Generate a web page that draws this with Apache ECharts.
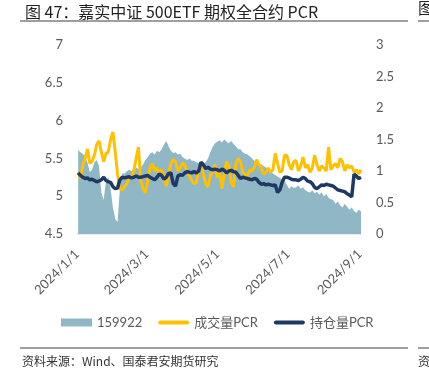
<!DOCTYPE html>
<html>
<head>
<meta charset="utf-8">
<script src="https://cdn.jsdelivr.net/npm/echarts@6/dist/echarts.min.js"></script>
<style>
  html, body { margin: 0; padding: 0; background: #fff; }
  #chart { width: 429px; height: 377px; }
</style>
</head>
<body>
<div id="chart"></div>
<script>
// 数据：从2024/1/2起每两天取一个点
var startDate = '2024-01-02';
var stepDays = 2;
var tickDates = ['2024-01-01', '2024-03-01', '2024-05-01', '2024-07-01', '2024-09-01'];

// 159922 收盘价（左轴）
var etfPrice = [
  5.61, 5.58, 5.56, 5.52, 5.45, 5.32, 5.35, 5.45, 5.48, 5.40,
  5.05, 4.95, 5.20, 5.25, 5.10, 4.85, 4.70, 4.66, 5.10, 5.30,
  5.30, 5.33, 5.35, 5.33, 5.36, 5.38, 5.36, 5.38, 5.42, 5.48,
  5.52, 5.56, 5.58, 5.55, 5.60, 5.58, 5.62, 5.68, 5.73, 5.66,
  5.60, 5.57, 5.58, 5.55, 5.56, 5.52, 5.50, 5.48, 5.50, 5.47,
  5.47, 5.45, 5.44, 5.46, 5.43, 5.45, 5.50, 5.58, 5.65, 5.70,
  5.72, 5.74, 5.71, 5.75, 5.72, 5.70, 5.73, 5.69, 5.66, 5.62,
  5.62, 5.58, 5.56, 5.55, 5.53, 5.50, 5.47, 5.45, 5.44, 5.42,
  5.40, 5.38, 5.35, 5.33, 5.30, 5.28, 5.26, 5.24, 5.22, 5.20,
  5.15, 5.10, 5.13, 5.11, 5.12, 5.14, 5.10, 5.12, 5.08, 5.06,
  5.05, 5.08, 5.04, 5.06, 5.02, 5.05, 5.00, 5.03, 4.98, 4.96,
  4.95, 4.90, 4.93, 4.88, 4.85, 4.90, 4.86, 4.82, 4.85, 4.80, 4.78, 4.82, 4.80
];

// 成交量PCR（右轴）
var volumePcr = [
  0.98, 0.88, 1.10, 1.20, 1.35, 1.12, 1.15, 1.25, 1.42, 1.48,
  1.30, 1.15, 1.28, 1.30, 1.50, 1.62, 1.30, 0.95, 0.72, 0.70,
  0.75, 0.80, 0.92, 0.88, 1.00, 1.20, 1.38, 0.85, 0.72, 0.65,
  0.85, 1.05, 1.12, 1.00, 1.05, 0.95, 1.02, 0.90, 0.76, 0.95,
  1.12, 1.18, 1.15, 1.00, 1.05, 1.12, 1.10, 0.98, 0.92, 0.85,
  0.80, 0.82, 1.05, 1.08, 0.95, 0.80, 0.75, 0.92, 1.00, 1.10,
  0.90, 1.00, 0.72, 0.95, 1.15, 1.08, 0.82, 0.75, 1.10, 1.20,
  1.15, 0.98, 0.95, 0.92, 1.02, 1.00, 1.05, 1.18, 1.10, 1.05,
  0.95, 0.98, 1.05, 0.98, 1.02, 1.28, 1.12, 0.98, 1.00, 1.25,
  1.25, 1.10, 1.02, 1.15, 1.17, 1.00, 1.08, 1.22, 1.05, 1.10,
  0.98, 1.05, 1.25, 1.10, 1.00, 1.08, 1.05, 1.00, 1.38, 1.02,
  1.08, 1.12, 1.05, 1.20, 1.15, 1.00, 1.10, 1.05, 1.08, 0.98, 1.02, 0.95, 1.02
];

// 持仓量PCR（右轴）
var oiPcr = [
  0.97, 0.93, 0.90, 0.88, 0.89, 0.86, 0.87, 0.85, 0.83, 0.84,
  0.86, 0.90, 0.85, 0.83, 0.82, 0.75, 0.72, 0.73, 0.86, 0.90,
  0.89, 0.90, 0.91, 0.89, 0.90, 0.92, 0.90, 0.90, 0.91, 0.92,
  0.93, 0.90, 0.88, 0.86, 0.90, 0.95, 0.93, 0.87, 0.90, 0.96,
  0.97, 0.80, 0.76, 0.92, 0.94, 0.93, 0.97, 0.99, 0.98, 0.97,
  0.99, 0.97, 1.00, 1.14, 1.10, 1.04, 1.06, 1.03, 1.02, 1.03,
  1.02, 1.00, 1.03, 1.01, 0.97, 1.00, 1.01, 0.99, 0.98, 0.93,
  0.88, 0.90, 0.89, 0.88, 0.87, 0.86, 0.88, 0.87, 0.82, 0.79,
  0.80, 0.78, 0.79, 0.78, 0.77, 0.78, 0.66, 0.70, 0.82, 0.90,
  0.90, 0.89, 0.87, 0.86, 0.86, 0.85, 0.87, 0.90, 0.88, 0.84,
  0.83, 0.80, 0.74, 0.72, 0.75, 0.78, 0.77, 0.79, 0.78, 0.77,
  0.76, 0.73, 0.70, 0.69, 0.68, 0.67, 0.64, 0.62, 0.59, 0.95, 0.92, 0.88, 0.90
];

function parseDay(s) {
  var p = s.split('-');
  return new Date(+p[0], +p[1] - 1, +p[2]);
}
var d0 = parseDay(startDate);
var dates = etfPrice.map(function (v, i) {
  return new Date(d0.getFullYear(), d0.getMonth(), d0.getDate() + i * stepDays).getTime();
});
function pair(arr) {
  return arr.map(function (v, i) { return [dates[i], v]; });
}

var lineIcon = 'path://M2,0 L29,0 A2,2 0 0 1 29,4 L2,4 A2,2 0 0 1 2,0 Z';
var labelFont = { color: '#595959', fontSize: 13, fontFamily: 'Lato, "Noto Sans CJK SC", sans-serif' };
var myChart = echarts.init(document.getElementById('chart'));
var option = {
  animation: false,
  title: {
    text: '图 47：嘉实中证 500ETF 期权全合约 PCR',
    left: 20, top: -1,
    textStyle: { color: '#222', fontSize: 16, fontWeight: 'normal', fontFamily: '"Noto Sans CJK SC", sans-serif' }
  },
  graphic: [
    { type: 'line', shape: { x1: 20, y1: 21, x2: 408, y2: 21 }, style: { stroke: '#7f7f7f', lineWidth: 1.5 } },
    { type: 'line', shape: { x1: 418, y1: 21, x2: 429, y2: 21 }, style: { stroke: '#7f7f7f', lineWidth: 1.5 } },
    { type: 'text', left: 418, top: 0, style: { text: '图', fill: '#222', font: '16px "Noto Sans CJK SC"' } },
    { type: 'line', shape: { x1: 20, y1: 348, x2: 408, y2: 348 }, style: { stroke: '#7f7f7f', lineWidth: 1.5 } },
    { type: 'line', shape: { x1: 418, y1: 348, x2: 429, y2: 348 }, style: { stroke: '#7f7f7f', lineWidth: 1.5 } },
    { type: 'text', left: 22, top: 355, style: { text: '资料来源：Wind、国泰君安期货研究', fill: '#333', font: '12px "Noto Sans CJK SC"' } },
    { type: 'text', left: 418, top: 355, style: { text: '资', fill: '#333', font: '12px "Noto Sans CJK SC"' } }
  ],
  legend: {
    left: 56, top: 311,
    itemWidth: 31, itemHeight: 8, itemGap: 16,
    symbolKeepAspect: true,
    textStyle: { color: '#595959', fontSize: 13, fontFamily: 'Lato, "Noto Sans CJK SC", sans-serif' },
    data: [
      { name: '159922', icon: 'rect', itemStyle: { color: '#8FB7C6' } },
      { name: '成交量PCR', icon: lineIcon },
      { name: '持仓量PCR', icon: lineIcon }
    ]
  },
  grid: { left: 77, right: 68, top: 45, bottom: 143 },
  xAxis: {
    type: 'value',
    min: parseDay('2024-01-01').getTime(),
    max: dates[dates.length - 1],
    splitLine: { show: false },
    axisLine: { show: true, lineStyle: { color: '#DDE4E8', width: 1.5 } },
    axisTick: { show: false },
    axisLabel: Object.assign({
      rotate: 45,
      margin: 18,
      showMinLabel: true,
      showMaxLabel: true,
      customValues: tickDates.map(function (s) { return parseDay(s).getTime(); }),
      formatter: function (v) {
        var d = new Date(v);
        return d.getFullYear() + '/' + (d.getMonth() + 1) + '/' + d.getDate();
      }
    }, labelFont)
  },
  yAxis: [
    {
      type: 'value', min: 4.5, max: 7, interval: 0.5,
      splitLine: { show: false }, axisLine: { show: false }, axisTick: { show: false },
      axisLabel: Object.assign({ margin: 14 }, labelFont)
    },
    {
      type: 'value', min: 0, max: 3, interval: 0.5,
      splitLine: { show: false }, axisLine: { show: false }, axisTick: { show: false },
      axisLabel: Object.assign({ margin: 15 }, labelFont)
    }
  ],
  series: [
    {
      name: '159922', type: 'line', yAxisIndex: 0, data: pair(etfPrice),
      symbol: 'none', color: '#8FB7C6',
      lineStyle: { width: 0 },
      areaStyle: { color: '#8FB7C6', opacity: 1 }
    },
    {
      name: '成交量PCR', type: 'line', yAxisIndex: 1, data: pair(volumePcr),
      symbol: 'none', color: '#FFC000',
      lineStyle: { width: 3, color: '#FFC000' }
    },
    {
      name: '持仓量PCR', type: 'line', yAxisIndex: 1, data: pair(oiPcr),
      symbol: 'none', color: '#203864',
      lineStyle: { width: 3.5, color: '#203864' }
    }
  ]
};
myChart.setOption(option);
</script>
</body>
</html>
